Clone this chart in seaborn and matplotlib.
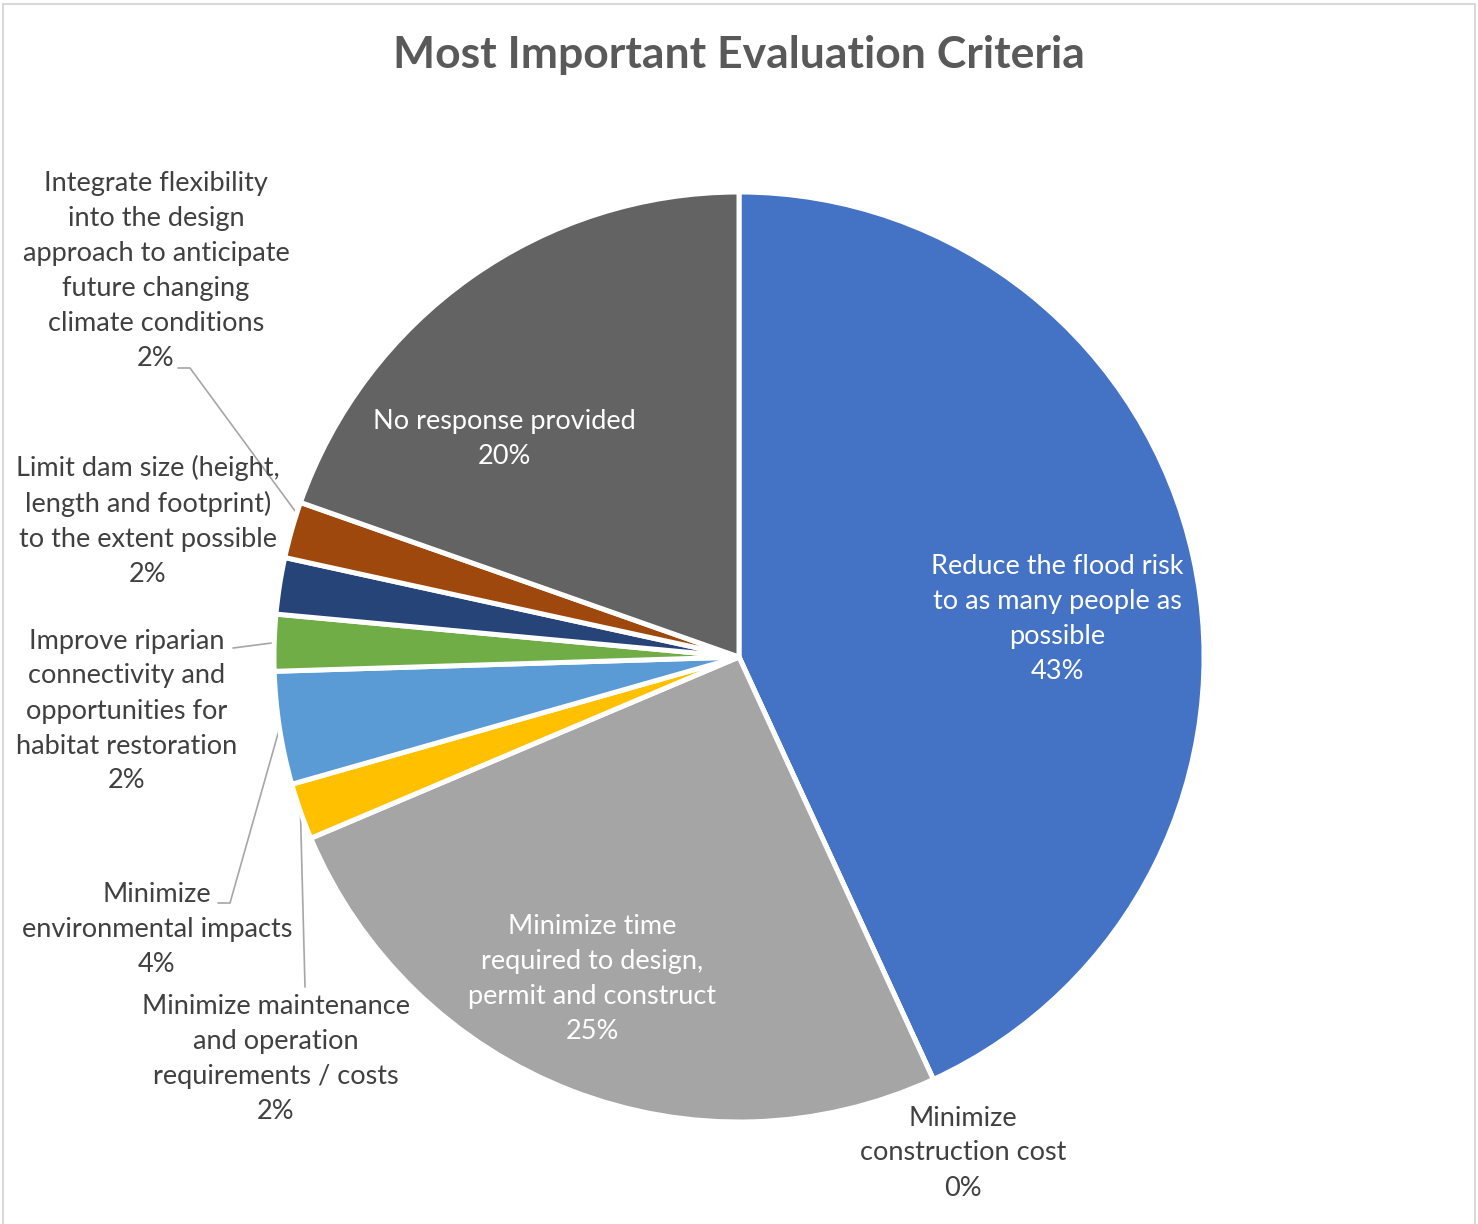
import matplotlib
matplotlib.use("Agg")
import matplotlib.pyplot as plt
import seaborn as sns
import numpy as np
from matplotlib.patches import Rectangle

W, H = 1478, 1224

# data (clockwise from 12 o'clock), counts out of 51 responses
categories = [
    "Reduce the flood risk\nto as many people as\npossible",
    "Minimize\nconstruction cost",
    "Minimize time\nrequired to design,\npermit and construct",
    "Minimize maintenance\nand operation\nrequirements / costs",
    "Minimize\nenvironmental impacts",
    "Improve riparian\nconnectivity and\nopportunities for\nhabitat restoration",
    "Limit dam size (height,\nlength and footprint)\nto the extent possible",
    "Integrate flexibility\ninto the design\napproach to anticipate\nfuture changing\nclimate conditions",
    "No response provided",
]
counts = [22, 0, 13, 1, 2, 1, 1, 1, 10]
colors = ["#4472C4", "#ED7D31", "#A5A5A5", "#FFC000", "#5B9BD5",
          "#70AD47", "#264478", "#9E480E", "#636363"]

total = sum(counts)
pct = [f"{round(100 * c / total)}%" for c in counts]

sns.set_theme(style="white")
plt.rcParams['font.family'] = ['Lato', 'DejaVu Sans']

fig = plt.figure(figsize=(W / 100, H / 100), dpi=100)
ax = fig.add_axes([0, 0, 1, 1])

cx, cy, R = 739, H - 657, 465
explode = [0.02] + [0] * 8
wedges, _ = ax.pie(counts, colors=colors, startangle=90, counterclock=False,
                   explode=explode, center=(cx, cy), radius=R,
                   wedgeprops=dict(edgecolor="white", linewidth=3.6))
ax.set_xlim(0, W)
ax.set_ylim(0, H)
ax.set_aspect("equal")
ax.axis("off")

# label placement in pixel coords (x, y from top), text colour
label_pos = [
    (1057, 619, "white"),
    (963, 1153, "#404040"),
    (592, 979, "white"),
    (276, 1059, "#404040"),
    (157, 929, "#404040"),
    (127, 711, "#404040"),
    (148, 521, "#404040"),
    (156, 271, "#404040"),
    (504, 439, "white"),
]

for i, (x, y, col) in enumerate(label_pos):
    ax.text(x, H - y, categories[i] + "\n" + pct[i], ha="center", va="center",
            multialignment="center", fontsize=19.5, color=col, linespacing=1.5)

# leader lines: points from the label towards the slice, and where on the slice arc
leaders = {
    7: ([(178, 368), (190, 368)], 0.2),
    5: ([(233, 648)], 0.5),
    4: ([(218, 903), (230, 903)], 0.5),
    3: ([(305, 987)], 0.5),
}
for i, (pts, frac) in leaders.items():
    w = wedges[i]
    ang = np.deg2rad(w.theta1 + frac * (w.theta2 - w.theta1))
    ex = w.center[0] + w.r * np.cos(ang)
    ey = w.center[1] + w.r * np.sin(ang)
    xs = [p[0] for p in pts] + [ex]
    ys = [H - p[1] for p in pts] + [ey]
    ax.plot(xs, ys, color="#A6A6A6", lw=1.2, zorder=0.5)

fig.text(0.5, 1 - 55 / H, "Most Important Evaluation Criteria", ha="center",
         va="center", fontsize=32, fontweight="bold", color="#595959")

ax.add_patch(Rectangle((3, -5), W - 6, H + 1, fill=False,
                       edgecolor="#D9D9D9", lw=1.5, clip_on=False))

fig.savefig("out.png", dpi=100)
